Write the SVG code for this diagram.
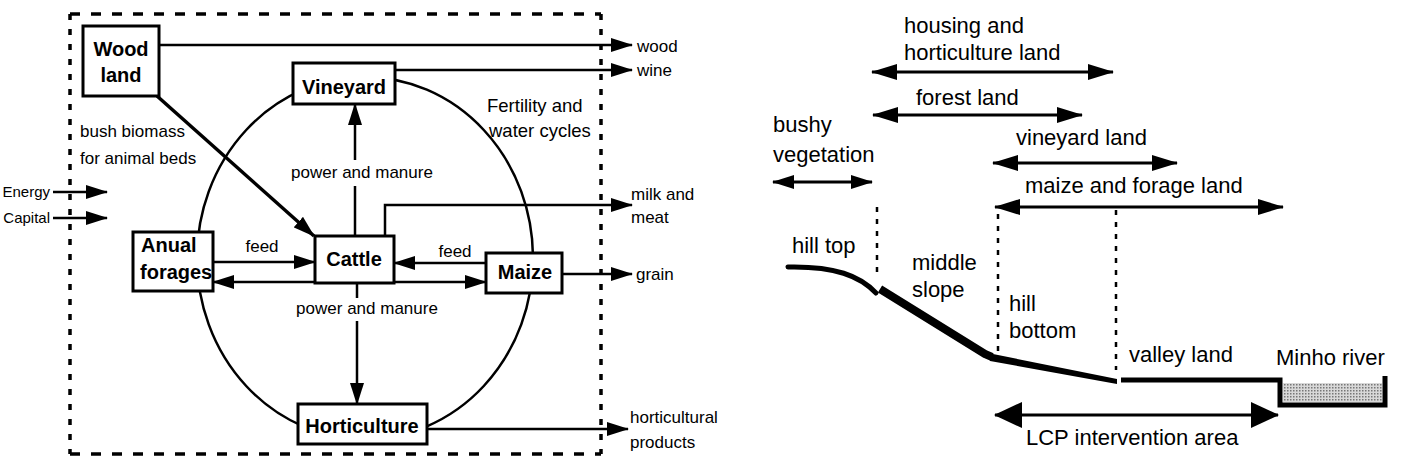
<svg xmlns="http://www.w3.org/2000/svg" width="1402" height="461" viewBox="0 0 1402 461">
<defs>
<style>
text{font-family:"Liberation Sans",Arial,sans-serif;fill:#000}
.t{font-size:17px}
.ts{font-size:15px}
.tf{font-size:18.5px}
.b{font-size:20px;font-weight:bold}
.r{font-size:22px}
.box{fill:#fff;stroke:#000;stroke-width:3}
.ln{fill:none;stroke:#000;stroke-width:2.5}
.la{fill:none;stroke:#000;stroke-width:2.5;marker-end:url(#ar)}
.ra{fill:none;stroke:#000;stroke-width:3;marker-start:url(#ar2);marker-end:url(#ar2)}
.dash{fill:none;stroke:#000;stroke-width:3.5}
.vd{fill:none;stroke:#000;stroke-width:2.5;stroke-dasharray:5 7}
</style>
<marker id="ar" markerUnits="userSpaceOnUse" markerWidth="22" markerHeight="14" refX="21" refY="7" orient="auto">
<path d="M0,0 L22,7 L0,14 z" fill="#000"/>
</marker>
<marker id="ar2" markerUnits="userSpaceOnUse" markerWidth="26" markerHeight="16" refX="25" refY="8" orient="auto-start-reverse">
<path d="M0,0 L26,8 L0,16 z" fill="#000"/>
</marker>
<marker id="ar4" markerUnits="userSpaceOnUse" markerWidth="22" markerHeight="14" refX="21" refY="7" orient="auto-start-reverse">
<path d="M0,0 L22,7 L0,14 z" fill="#000"/>
</marker>
<marker id="ar3" markerUnits="userSpaceOnUse" markerWidth="28" markerHeight="26" refX="27" refY="13" orient="auto-start-reverse">
<path d="M0,0 L28,13 L0,26 z" fill="#000"/>
</marker>
<pattern id="dots" patternUnits="userSpaceOnUse" width="3" height="3">
<rect width="3" height="3" fill="#d8d8d8"/>
<rect width="1.5" height="1.5" fill="#777"/>
</pattern>
</defs>

<!-- system boundary -->
<g id="boundary">
<line class="dash" x1="70" y1="14" x2="601" y2="14" stroke-dasharray="10 11"/>
<line class="dash" x1="70" y1="454" x2="601" y2="454" stroke-dasharray="10 11"/>
<line class="dash" x1="70" y1="14" x2="70" y2="454" stroke-dasharray="6 9"/>
<line class="dash" x1="601" y1="14" x2="601" y2="454" stroke-dasharray="6 9"/>
</g>

<!-- fertility cycle ellipse -->
<ellipse id="cycle" cx="365" cy="258" rx="168" ry="181" fill="none" stroke="#000" stroke-width="2.5"/>

<g id="connectors">
<line class="la" x1="159" y1="45" x2="632" y2="45"/>
<line class="la" x1="395" y1="70" x2="632" y2="70"/>
<line class="la" x1="157" y1="96" x2="314" y2="236" style="stroke-width:3.5"/>
<line class="ln" x1="355" y1="236" x2="355" y2="186"/>
<line class="la" x1="355" y1="160" x2="355" y2="104"/>
<polyline class="la" points="385,236 385,205 632,205"/>
<line class="la" x1="213" y1="262" x2="315" y2="262"/>
<line class="la" x1="486" y1="263" x2="394" y2="263"/>
<line class="la" x1="315" y1="282" x2="213" y2="282"/>
<line class="la" x1="394" y1="282" x2="486" y2="282"/>
<line class="ln" x1="357" y1="283" x2="357" y2="298"/>
<line class="la" x1="357" y1="321" x2="357" y2="404"/>
<line class="la" x1="562" y1="274" x2="632" y2="274"/>
<line class="la" x1="427" y1="429" x2="628" y2="429"/>
<line class="la" x1="53" y1="192" x2="107" y2="192"/>
<line class="la" x1="53" y1="218" x2="107" y2="218"/>

<line class="ra" x1="872" y1="72" x2="1113" y2="72"/>
<line class="ra" x1="873" y1="115" x2="1082" y2="115"/>
<line class="ra" x1="773" y1="182" x2="872" y2="182" style="marker-start:url(#ar4);marker-end:url(#ar4)"/>
<line class="ra" x1="993" y1="163" x2="1177" y2="163"/>
<line class="ra" x1="995" y1="207" x2="1283" y2="207"/>
<line class="ra" x1="995" y1="415" x2="1278" y2="415" style="marker-start:url(#ar3);marker-end:url(#ar3)"/>
<line class="vd" x1="877" y1="207" x2="877" y2="276"/>
<line class="vd" x1="998" y1="214" x2="998" y2="358"/>
<line class="vd" x1="1116" y1="210" x2="1116" y2="370"/>
</g>

<g id="woodland"><rect class="box" x="83" y="26" width="76" height="70"/>
<text class="b" x="121" y="56" text-anchor="middle">Wood</text>
<text class="b" x="121" y="82" text-anchor="middle">land</text></g>
<g id="vineyard"><rect class="box" x="293" y="63" width="102" height="41"/>
<text class="b" x="344" y="94" text-anchor="middle">Vineyard</text></g>
<g id="cattle"><rect class="box" x="315" y="236" width="79" height="47"/>
<text class="b" x="354" y="266" text-anchor="middle">Cattle</text></g>
<g id="anual"><rect class="box" x="133" y="232" width="80" height="59"/>
<text class="b" x="141" y="252">Anual</text>
<text class="b" x="140" y="279">forages</text></g>
<g id="maize"><rect class="box" x="486" y="253" width="76" height="40"/>
<text class="b" x="525" y="279" text-anchor="middle">Maize</text></g>
<g id="horticulture"><rect class="box" x="298" y="404" width="129" height="40"/>
<text class="b" x="362" y="433" text-anchor="middle">Horticulture</text></g>

<g id="labels-left">
<text class="t" x="80" y="137">bush biomass</text>
<text class="t" x="80" y="164">for animal beds</text>
<text class="tf" x="487" y="112">Fertility and</text>
<text class="tf" x="489" y="137">water cycles</text>
<text class="t" x="362" y="178" text-anchor="middle">power and manure</text>
<text class="t" x="367" y="314" text-anchor="middle">power and manure</text>
<text class="t" x="262" y="252" text-anchor="middle">feed</text>
<text class="t" x="455" y="257" text-anchor="middle">feed</text>
<text class="t" x="637" y="52">wood</text>
<text class="t" x="637" y="76">wine</text>
<text class="t" x="631" y="200">milk and</text>
<text class="t" x="631" y="223">meat</text>
<text class="t" x="636" y="280">grain</text>
<text class="t" x="630" y="423">horticultural</text>
<text class="t" x="630" y="448">products</text>
<text class="ts" x="50" y="197" text-anchor="end">Energy</text>
<text class="ts" x="50" y="223" text-anchor="end">Capital</text>
</g>

<g id="terrain">
<path d="M788,267 C835,266 860,276 876,293" fill="none" stroke="#000" stroke-width="5" stroke-linecap="round"/>
<path d="M880,289 L985,354 L992,357" fill="none" stroke="#000" stroke-width="8" stroke-linejoin="round"/>
<polygon points="988,353 1117,379 1117,384 990,361" fill="#000"/>
<rect x="1283" y="383" width="99" height="19" fill="url(#dots)"/>
<polyline points="1121,380 1280,380 1280,405 1385,405 1385,376" fill="none" stroke="#000" stroke-width="5"/>
</g>

<g id="labels-right">
<text class="r" x="904" y="33">housing and</text>
<text class="r" x="904" y="60">horticulture land</text>
<text class="r" x="916" y="105">forest land</text>
<text class="r" x="773" y="132">bushy</text>
<text class="r" x="773" y="162">vegetation</text>
<text class="r" x="1016" y="145">vineyard land</text>
<text class="r" x="1025" y="193">maize and forage land</text>
<text class="r" x="792" y="253">hill top</text>
<text class="r" x="912" y="270">middle</text>
<text class="r" x="912" y="297">slope</text>
<text class="r" x="1009" y="311">hill</text>
<text class="r" x="1009" y="338">bottom</text>
<text class="r" x="1129" y="362">valley land</text>
<text class="r" x="1276" y="365">Minho river</text>
<text class="r" x="1026" y="445">LCP intervention area</text>
</g>
</svg>
